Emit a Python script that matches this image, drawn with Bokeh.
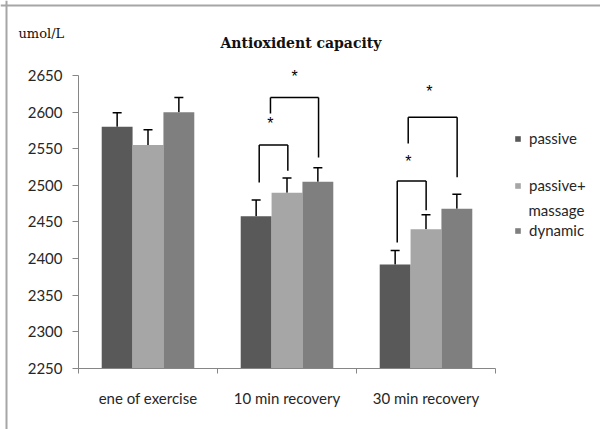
from bokeh.plotting import figure
from bokeh.models import (ColumnDataSource, Range1d, FixedTicker, Whisker, TeeHead,
                          Legend, LegendItem, Label, Span, LinearAxis)
from bokeh.core.properties import value
from bokeh.embed import file_html
from bokeh.resources import INLINE

# ---------------- data ----------------
categories = ["ene of exercise", "10 min recovery", "30 min recovery"]
series = ["passive", "passive+", "dynamic"]
series_extra = "massage"          # second line of the "passive+ massage" legend entry
passive = [2580, 2458, 2392]
passive_massage = [2555, 2490, 2440]
dynamic = [2600, 2505, 2468]
err_passive = [19, 22, 19]
err_passive_massage = [21, 20, 20]
err_dynamic = [20, 19, 20]
y_ticks = [2250, 2300, 2350, 2400, 2450, 2500, 2550, 2600, 2650]

# significance brackets (x in category units, y in umol/L)
br_left = [1.30, 1.381, 2.293, 2.372]
br_right = [1.506, 1.727, 2.501, 2.724]
br_top = [2555, 2620, 2506, 2593]
br_left_end = [2504, 2598, 2422, 2557]
br_right_end = [2520, 2538, 2466, 2511]
star_x = [1.38, 1.555, 2.374, 2.525]
star_y = [2585, 2649, 2533, 2628]
star_text = ["*", "*", "*", "*"]

colors = ["#595959", "#a6a6a6", "#7f7f7f"]
offsets = [-0.222, 0.0, 0.222]
bar_w = 0.222

p = figure(width=600, height=429, output_backend="svg", toolbar_location=None,
           x_range=Range1d(-0.5612, 3.7554), y_range=Range1d(2166.7, 2752.4),
           min_border_left=0, min_border_right=0, min_border_top=0, min_border_bottom=0,
           x_axis_location=None, y_axis_location=None)
p.title.visible = False
p.outline_line_color = None
p.xgrid.visible = False
p.ygrid.visible = False
p.background_fill_color = "white"
p.border_fill_color = "white"

vals = [passive, passive_massage, dynamic]
errs = [err_passive, err_passive_massage, err_dynamic]
renderers = []
for i in range(3):
    xs = [c + 0.5 + offsets[i] for c in range(len(categories))]
    src = ColumnDataSource(dict(x=xs, top=vals[i],
                                upper=[v + e for v, e in zip(vals[i], errs[i])]))
    r = p.vbar(x="x", top="top", bottom=2250, width=bar_w, source=src,
               fill_color=colors[i], line_color=None)
    renderers.append(r)
    w = Whisker(base="x", lower="top", upper="upper", source=src,
                upper_head=TeeHead(size=9, line_color="black", line_width=1.5),
                lower_head=None, line_color="black", line_width=1.5)
    p.add_layout(w)

# brackets
p.segment(x0=br_left, y0=br_top, x1=br_right, y1=br_top, line_color="black", line_width=1.5)
p.segment(x0=br_left, y0=br_left_end, x1=br_left, y1=br_top, line_color="black", line_width=1.5)
p.segment(x0=br_right, y0=br_right_end, x1=br_right, y1=br_top, line_color="black", line_width=1.5)
p.text(x=star_x, y=star_y, text=star_text, text_align="center", text_baseline="middle",
       text_font=value("Liberation Sans"), text_font_size="16px", text_color="black")

# x axis pinned at y = 2250
ax = LinearAxis(fixed_location=2250, bounds=(0, 3),
                ticker=FixedTicker(ticks=[0.5, 1.5, 2.5], minor_ticks=[0, 1, 2, 3]))
ax.major_label_overrides = {0.5: categories[0], 1.5: categories[1], 2.5: categories[2]}
ax.major_tick_line_color = None
ax.minor_tick_in = 0
ax.minor_tick_out = 5
ax.minor_tick_line_color = "#868686"
ax.axis_line_color = "#868686"
ax.major_label_standoff = 15
ax.major_label_text_font = "Lato"
ax.major_label_text_font_size = "15px"
ax.major_label_text_color = "#262626"
p.add_layout(ax, "below")

# y axis pinned at x = 0
ay = LinearAxis(fixed_location=0, ticker=FixedTicker(ticks=y_ticks), bounds=(2250, 2650))
ay.major_tick_in = 0
ay.major_tick_out = 6
ay.minor_tick_line_color = None
ay.major_tick_line_color = "#868686"
ay.axis_line_color = "#868686"
ay.major_label_standoff = 10
ay.major_label_text_font = "Lato"
ay.major_label_text_font_size = "15px"
ay.major_label_text_color = "#262626"
p.add_layout(ay, "left")

# legends (one per entry)
leg_y = [282, 235, 190]
for i in range(3):
    lg = Legend(items=[LegendItem(label=series[i], renderers=[renderers[i]])],
                location=(514, leg_y[i]), padding=0, margin=0, spacing=0,
                border_line_color=None, background_fill_alpha=0,
                glyph_width=7, glyph_height=7, label_standoff=8,
                label_text_font="Lato", label_text_font_size="15px",
                label_text_color="#262626")
    p.add_layout(lg)
p.add_layout(Label(x=3.2374, y=2465.7, text=series_extra, text_align="left",
                   text_baseline="middle", text_font="Lato", text_font_size="15px",
                   text_color="#262626"))

# title and unit label
p.add_layout(Label(x=1.60, y=2695, text="Antioxident capacity", text_align="center",
                   text_baseline="middle", text_font="DejaVu Serif",
                   text_font_style="bold", text_font_size="14px", text_color="#111111"))
p.add_layout(Label(x=-0.432, y=2707, text="umol/L", text_align="left",
                   text_baseline="middle", text_font="DejaVu Serif",
                   text_font_size="13px", text_color="#111111"))

# frame border (top and left edges)
p.add_layout(Span(location=5, location_units="canvas", dimension="width",
                  line_color="#a6a6a6", line_width=2))
p.add_layout(Span(location=6, location_units="canvas", dimension="height",
                  line_color="#a6a6a6", line_width=2))

open("out.html", "w").write(file_html(p, INLINE))
